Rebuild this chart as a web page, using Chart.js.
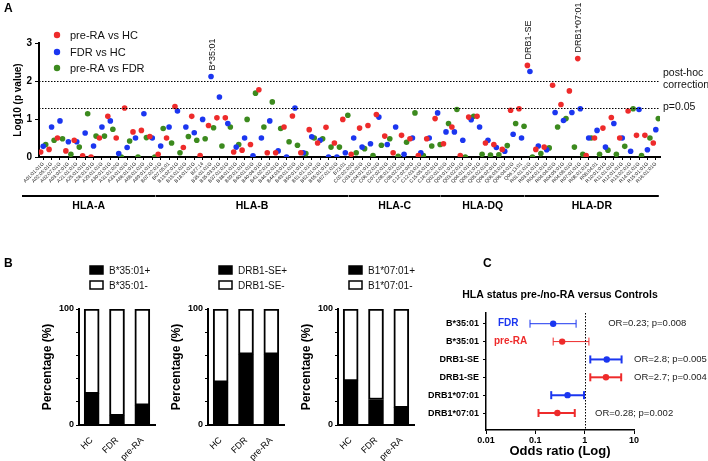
<!DOCTYPE html>
<html>
<head>
<meta charset="utf-8">
<script src="https://cdn.jsdelivr.net/npm/chart.js@4.4.1/dist/chart.umd.min.js"></script>
<style>
  body { margin: 0; background: #fff; font-family: 'Liberation Sans', Arial, sans-serif; }
  #pagina { position: relative; width: 708px; height: 461px; overflow: hidden; background: #fff; }
  canvas { position: absolute; }
  .letra { position: absolute; font-weight: bold; font-size: 12px; color: #000; }
</style>
</head>
<body>
<div id="pagina">
  <canvas id="graficoA" width="708" height="215" style="left:0;top:0"></canvas>
  <canvas id="graficoB1" width="160" height="199" style="left:0;top:262px"></canvas>
  <canvas id="graficoB2" width="160" height="199" style="left:129px;top:262px"></canvas>
  <canvas id="graficoB3" width="160" height="199" style="left:259px;top:262px"></canvas>
  <canvas id="graficoC" width="308" height="183" style="left:400px;top:278px"></canvas>
  <div class="letra" style="left:4px;top:1px">A</div>
  <div class="letra" style="left:4px;top:256px">B</div>
  <div class="letra" style="left:483px;top:256px">C</div>
</div>
<script>
Chart.defaults.font.family = "'Liberation Sans', Arial, sans-serif";
Chart.defaults.color = '#000';
Chart.defaults.animation = false;

var VERMELHO = '#ee2b2b';
var AZUL = '#1b36f0';
var VERDE = '#3c8a1e';

// ---- painel A ----
var categoriasA = [
    'A01:01:01G', 'A02:05:01G', 'A02:07:01G', 'A03:02:01G', 'A21:01:01G', 'A25:01:01G', 'A26:01:01G',
    'A29:01:01G', 'A30:01:01G', 'A31:01:02G', 'A33:01:01G', 'A66:01:01G', 'A68:01:01G', 'A69:01:01G',
    'B07:02:01G', 'B07:05:01', 'B13:02:01G', 'B15:01:01G', 'B18:01:01G', 'B27:14', 'B35:01:01G',
    'B35:03:01G', 'B37:01:01G', 'B38:01:01G', 'B39:01:01G', 'B40:01:01G', 'B40:06:01G', 'B41:02:01G',
    'B44:02:01G', 'B44:03:01G', 'B49:01:01G', 'B50:01:01G', 'B51:01:01G', 'B52:01:01G', 'B55:01:01G',
    'B57:01:01G', 'B73:01',
    'C02:02:02G', 'C03:02:01G', 'C04:01:01G', 'C06:02:01G', 'C07:02:01G', 'C08:01:01G', 'C08:02:01G',
    'C12:02:02G', 'C12:03:01G', 'C15:05:01G', 'C16:02:01G',
    'Q02:01:01G', 'Q03:01:01G', 'Q03:02:01G', 'Q04:01:01G', 'Q05:01:01G', 'Q05:02:01G', 'Q06:02:01G',
    'Q06:03:01G', 'Q06:04:01G', 'Q06:13:01',
    'R01:01:01G', 'R03:01:01G', 'R04:01:01G', 'R04:04:01G', 'R04:05:01G', 'R04:08:01G', 'R07:01:01G',
    'R08:01:01G', 'R08:04:01', 'R10:01:01G', 'R11:01:01G', 'R12:01:01G', 'R13:02:01G', 'R14:01:01G',
    'R15:01:01G', 'R16:01:01G'
];

var preRaVsHc = [.13, .2, .5, .16, .44, .03, 0, .5, 1.07, .5, 1.29, .66, .7, .54, .07, .5, 1.33, .25, 1.07, .04,
    .83, 1.03, 1.03, .13, .18, .33, 1.77, .11, .11, .79, 1.08, .11, .72, .37, .78, .37, .99, .07, .76, .83,
    1.12, .55, .11, .57, .48, .04, .48, 1.01, .35, .79, .04, 1.05, 1.07, .37, .33, .2, 1.23, 1.27, 2.41, .2,
    .26, 1.89, 1.38, 1.74, 2.59, .04, .5, .76, 1.04, .5, 1.21, .57, .57, .37];

var fdrVsHc = [.28, .79, .95, .4, .4, .63, .29, .79, .95, .09, .25, .5, 1.14, .5, .29, .79, 1.21, .79, .64, .99,
    2.12, 1.58, .88, .26, .5, .03, .5, .95, .16, 0, 1.29, .11, .53, .44, 0, 0, .11, .5, .26, .35,
    1.05, .33, .79, .07, .5, .11, .5, 1.16, .66, .66, .44, .98, .79, .44, .25, .15, .6, .5, 2.25, .29,
    .19, 1.17, .96, 1.17, 1.27, .5, .7, .26, .88, .5, .15, 1.25, .19, .72];

var preRaVsFdr = [.33, .44, .48, .07, .26, 1.14, .55, .55, .73, 0, .42, 0, .51, 0, .75, .37, .11, .54, .44, .48,
    .77, .29, .79, .33, .99, 1.68, .79, 1.45, .75, .4, .31, .09, .5, .48, .26, .26, 1.1, .11, .22, .04,
    .31, .48, .02, .39, 1.16, .04, .29, .33, .88, 1.25, 0, 1.07, .07, .05, .06, .3, .88, .81, 0, .09,
    .24, .79, 1.01, .26, .07, .5, .07, .18, .07, .28, 1.27, .04, .5, 1.01];

var nomesSeries = ['pre-RA vs HC', 'FDR vs HC', 'pre-RA vs FDR'];
var ticksY_A = [0, 1, 2, 3];
var gruposHla = ['HLA-A', 'HLA-B', 'HLA-C', 'HLA-DQ', 'HLA-DR'];
var inicioGrupo = [0, 14, 37, 48, 58];
var fimGrupo = [13, 36, 47, 57, 73];
var limiarPostHoc = 2;
var limiarP005 = 1.301;
var destaqueTexto = ['B*35:01', 'DRB1-SE', 'DRB1*07:01'];
var destaqueSerie = [1, 0, 0];
var destaqueIndice = [20, 58, 64];

// ---- painel B ----
var gruposBarras = ['HC', 'FDR', 'pre-RA'];
var b3501Pos = [27, 8, 17];
var b3501Neg = [73, 92, 83];
var drb1SePos = [37, 61, 61];
var drb1SeNeg = [63, 39, 39];
var b10701Pos = [38, 22, 15];
var b10701Neg = [62, 78, 85];

// ---- painel C ----
var rotulosFloresta = ['B*35:01', 'B*35:01', 'DRB1-SE', 'DRB1-SE', 'DRB1*07:01', 'DRB1*07:01'];
var grupoFloresta = ['FDR', 'pre-RA', 'FDR', 'pre-RA', 'FDR', 'pre-RA'];
var oddsRatio = [0.23, 0.35, 2.8, 2.7, 0.45, 0.28];
var icInferior = [0.078, 0.23, 1.3, 1.3, 0.21, 0.116];
var icSuperior = [0.67, 1.22, 5.6, 5.5, 0.97, 0.63];
var textoOR = ['OR=0.23; p=0.008', '', 'OR=2.8; p=0.005', 'OR=2.7; p=0.004', '', 'OR=0.28; p=0.002'];
var ticksOR = [0.01, 0.1, 1, 10];

function pontos(valores, desloc) {
    var lista = [];
    for (var i = 0; i < valores.length; i++) {
        lista.push({ x: i + desloc, y: valores[i] });
    }
    return lista;
}

var extrasA = {
    id: 'extrasA',
    afterDatasetsDraw: function (chart) {
        var ctx = chart.ctx;
        var sx = chart.scales.x;
        var sy = chart.scales.y;
        var area = chart.chartArea;
        ctx.save();

        // linhas pontilhadas
        ctx.strokeStyle = '#000';
        ctx.lineWidth = 1;
        ctx.setLineDash([1.5, 1.5]);
        [limiarPostHoc, limiarP005].forEach(function (v) {
            var py = Math.round(sy.getPixelForValue(v)) + 0.5;
            ctx.beginPath();
            ctx.moveTo(area.left, py);
            ctx.lineTo(area.right, py);
            ctx.stroke();
        });
        ctx.setLineDash([]);

        ctx.fillStyle = '#111';
        ctx.font = "10.5px 'Liberation Sans', Arial";
        ctx.textAlign = 'left';
        ctx.textBaseline = 'middle';
        var yPh = sy.getPixelForValue(limiarPostHoc);
        ctx.fillText('post-hoc', area.right + 3, yPh - 8);
        ctx.fillText('correction', area.right + 3, yPh + 4);
        ctx.fillText('p=0.05', area.right + 3, sy.getPixelForValue(limiarP005));

        // rotulos verticais dos destaques
        ctx.font = "9px 'Liberation Sans', Arial";
        for (var i = 0; i < destaqueTexto.length; i++) {
            var meta = chart.getDatasetMeta(destaqueSerie[i]);
            var el = meta.data[destaqueIndice[i]];
            ctx.save();
            ctx.translate(el.x + 1, el.y - 6);
            ctx.rotate(-Math.PI / 2);
            ctx.textAlign = 'left';
            ctx.fillText(destaqueTexto[i], 0, 0);
            ctx.restore();
        }

        // legenda
        var legY = [35, 52, 68];
        ctx.font = "11px 'Liberation Sans', Arial";
        for (var k = 0; k < chart.data.datasets.length; k++) {
            ctx.fillStyle = chart.data.datasets[k].backgroundColor;
            ctx.beginPath();
            ctx.arc(57, legY[k], 3.2, 0, Math.PI * 2);
            ctx.fill();
            ctx.fillStyle = '#111';
            ctx.fillText(chart.data.datasets[k].label, 70, legY[k] + 1);
        }

        // grupos HLA
        var yLinha = area.bottom + 39;
        ctx.lineWidth = 2;
        ctx.strokeStyle = '#000';
        ctx.fillStyle = '#000';
        ctx.font = "bold 10.5px 'Liberation Sans', Arial";
        ctx.textAlign = 'center';
        for (var g = 0; g < gruposHla.length; g++) {
            var x1 = g == 0 ? area.left - 17 : sx.getPixelForValue(inicioGrupo[g]) - 5;
            var x2 = sx.getPixelForValue(fimGrupo[g]) + 3;
            ctx.beginPath();
            ctx.moveTo(x1, yLinha);
            ctx.lineTo(x2, yLinha);
            ctx.stroke();
            ctx.fillText(gruposHla[g], (x1 + x2) / 2, yLinha + 10);
        }
        ctx.restore();
    }
};

new Chart(document.getElementById('graficoA'), {
    type: 'scatter',
    data: {
        datasets: [
            { label: nomesSeries[0], data: pontos(preRaVsHc, -0.3), backgroundColor: VERMELHO },
            { label: nomesSeries[1], data: pontos(fdrVsHc, 0), backgroundColor: AZUL },
            { label: nomesSeries[2], data: pontos(preRaVsFdr, 0.3), backgroundColor: VERDE }
        ]
    },
    options: {
        responsive: false,
        devicePixelRatio: 1,
        layout: { padding: { left: 10, right: 48, top: 43, bottom: 18 } },
        elements: { point: { radius: 2.8, borderWidth: 0, hoverRadius: 2.8 } },
        plugins: { legend: { display: false }, tooltip: { enabled: false } },
        scales: {
            x: {
                type: 'linear',
                min: -0.5,
                max: categoriasA.length - 0.5,
                afterBuildTicks: function (scale) {
                    scale.ticks = categoriasA.map(function (c, i) { return { value: i }; });
                },
                afterFit: function (scale) { scale.height = 40; },
                ticks: {
                    autoSkip: false,
                    minRotation: 45,
                    maxRotation: 45,
                    padding: 1,
                    font: { size: 5 },
                    color: '#222',
                    callback: function (v) { return categoriasA[v]; }
                },
                grid: { drawOnChartArea: false, tickLength: 3, color: '#000', lineWidth: 1 },
                border: { color: '#000', width: 2 }
            },
            y: {
                min: 0,
                max: 3,
                afterBuildTicks: function (scale) {
                    scale.ticks = ticksY_A.map(function (v) { return { value: v }; });
                },
                afterFit: function (scale) { scale.width = 29; },
                ticks: { font: { size: 10, weight: 'bold' }, padding: 3 },
                grid: { drawOnChartArea: false, tickLength: 4, color: '#000' },
                border: { color: '#000', width: 2 },
                title: { display: true, text: 'Log10 (p value)', font: { size: 10, weight: 'bold' }, padding: 2 }
            }
        }
    },
    plugins: [extrasA]
});

// ---- graficos de barras ----
var legendaCaixas = {
    id: 'legendaCaixas',
    afterDraw: function (chart) {
        var ctx = chart.ctx;
        var ys = [8, 23];
        ctx.save();
        ctx.font = "10px 'Liberation Sans', Arial";
        ctx.textBaseline = 'middle';
        ctx.textAlign = 'left';
        for (var k = 0; k < 2; k++) {
            var ds = chart.data.datasets[k];
            ctx.fillStyle = ds.backgroundColor;
            ctx.fillRect(chart.chartArea.left + 11, ys[k] - 4, 13, 8);
            ctx.strokeStyle = '#000';
            ctx.lineWidth = 1.5;
            ctx.strokeRect(chart.chartArea.left + 11, ys[k] - 4, 13, 8);
            ctx.fillStyle = '#111';
            ctx.fillText(ds.label, chart.chartArea.left + 30, ys[k] + 1);
        }
        ctx.restore();
    }
};

function graficoBarras(idCanvas, rotulos, positivo, negativo) {
    new Chart(document.getElementById(idCanvas), {
        type: 'bar',
        data: {
            labels: gruposBarras,
            datasets: [
                { label: rotulos[0], data: positivo, backgroundColor: '#000', borderColor: '#000', borderWidth: 1.5, barThickness: 15 },
                { label: rotulos[1], data: negativo, backgroundColor: '#fff', borderColor: '#000', borderWidth: 2, barThickness: 15, borderSkipped: false }
            ]
        },
        options: {
            responsive: false,
            devicePixelRatio: 1,
            layout: { padding: { left: 38, right: 5, top: 47, bottom: 0 } },
            plugins: { legend: { display: false }, tooltip: { enabled: false } },
            scales: {
                x: {
                    stacked: true,
                    afterFit: function (scale) { scale.height = 36; },
                    ticks: { minRotation: 45, maxRotation: 45, font: { size: 9 }, padding: 2 },
                    grid: { display: false },
                    border: { display: true, color: '#000', width: 2 }
                },
                y: {
                    stacked: true,
                    min: 0,
                    max: 100,
                    afterFit: function (scale) { scale.width = 41; },
                    ticks: {
                        stepSize: 10,
                        font: { size: 9, weight: 'bold' },
                        padding: 2,
                        callback: function (v) { return v % 50 == 0 ? v : ''; }
                    },
                    grid: { drawOnChartArea: false, tickLength: 3, color: '#000' },
                    border: { color: '#000', width: 2 },
                    title: { display: true, text: 'Percentage (%)', font: { size: 12, weight: 'bold' }, padding: 2 }
                }
            }
        },
        plugins: [legendaCaixas]
    });
}

graficoBarras('graficoB1', ['B*35:01+', 'B*35:01-'], b3501Pos, b3501Neg);
graficoBarras('graficoB2', ['DRB1-SE+', 'DRB1-SE-'], drb1SePos, drb1SeNeg);
graficoBarras('graficoB3', ['B1*07:01+', 'B1*07:01-'], b10701Pos, b10701Neg);

// ---- painel C (forest plot) ----
var extrasC = {
    id: 'extrasC',
    afterDatasetsDraw: function (chart) {
        var ctx = chart.ctx;
        var sx = chart.scales.x;
        var sy = chart.scales.y;
        var area = chart.chartArea;
        ctx.save();
        var px = Math.round(sx.getPixelForValue(1)) + 0.5;
        ctx.strokeStyle = '#000';
        ctx.lineWidth = 1;
        ctx.setLineDash([1.5, 1.5]);
        ctx.beginPath();
        ctx.moveTo(px, area.top);
        ctx.lineTo(px, area.bottom);
        ctx.stroke();
        ctx.setLineDash([]);

        ctx.textBaseline = 'middle';
        ctx.textAlign = 'center';
        ctx.fillStyle = '#000';
        ctx.font = "bold 10.5px 'Liberation Sans', Arial";
        ctx.fillText('HLA status pre-/no-RA versus Controls', (area.left + area.right) / 2, 17);

        ctx.textAlign = 'left';
        ctx.font = "bold 10px 'Liberation Sans', Arial";
        ctx.fillStyle = AZUL;
        ctx.fillText('FDR', sx.getPixelForValue(0.0175), sy.getPixelForValue(0));
        ctx.fillStyle = VERMELHO;
        ctx.fillText('pre-RA', sx.getPixelForValue(0.0145), sy.getPixelForValue(1));

        var posTexto = [3, 0, 10, 10, 0, 1.62];
        ctx.font = "9.5px 'Liberation Sans', Arial";
        ctx.fillStyle = '#222';
        for (var i = 0; i < textoOR.length; i++) {
            if (textoOR[i]) {
                ctx.fillText(textoOR[i], sx.getPixelForValue(posTexto[i]), sy.getPixelForValue(i));
            }
        }
        ctx.restore();
    }
};

var conjuntosC = [];
for (var i = 0; i < rotulosFloresta.length; i++) {
    var cor = grupoFloresta[i] == 'FDR' ? AZUL : VERMELHO;
    var esp = rotulosFloresta[i] == 'B*35:01' ? 1 : 2;
    conjuntosC.push({
        data: [{ x: icInferior[i], y: i }, { x: icSuperior[i], y: i }],
        showLine: true,
        borderColor: cor,
        borderWidth: esp,
        pointStyle: 'line',
        rotation: 90,
        pointRadius: 4,
        pointHoverRadius: 4,
        pointBorderColor: cor,
        pointBorderWidth: esp
    });
}
conjuntosC.push({
    data: oddsRatio.map(function (v, i) { return { x: v, y: i }; }),
    pointRadius: 3.2,
    pointHoverRadius: 3.2,
    pointBorderWidth: 0,
    pointBackgroundColor: grupoFloresta.map(function (g) { return g == 'FDR' ? AZUL : VERMELHO; })
});

new Chart(document.getElementById('graficoC'), {
    type: 'scatter',
    data: { datasets: conjuntosC },
    options: {
        responsive: false,
        devicePixelRatio: 1,
        layout: { padding: { left: 0, right: 74, top: 35, bottom: 0 } },
        plugins: { legend: { display: false }, tooltip: { enabled: false } },
        scales: {
            x: {
                type: 'logarithmic',
                min: 0.01,
                max: 10,
                afterBuildTicks: function (scale) {
                    scale.ticks = ticksOR.map(function (v) { return { value: v }; });
                },
                afterFit: function (scale) { scale.height = 31; },
                ticks: {
                    font: { size: 9, weight: 'bold' },
                    padding: 1,
                    callback: function (v) { return String(v); }
                },
                grid: { drawOnChartArea: false, tickLength: 4, color: '#000' },
                border: { color: '#000', width: 1.5 },
                title: { display: true, text: 'Odds ratio (Log)', font: { size: 13, weight: 'bold' }, padding: { top: 0, bottom: 2 } }
            },
            y: {
                reverse: true,
                min: -0.6,
                max: 5.95,
                afterBuildTicks: function (scale) {
                    scale.ticks = rotulosFloresta.map(function (r, i) { return { value: i }; });
                },
                afterFit: function (scale) { scale.width = 86; },
                ticks: {
                    font: { size: 9, weight: 'bold' },
                    padding: 4,
                    callback: function (v) { return rotulosFloresta[v]; }
                },
                grid: { drawOnChartArea: false, tickLength: 3, color: '#000' },
                border: { color: '#000', width: 1.5 }
            }
        }
    },
    plugins: [extrasC]
});
</script>
</body>
</html>
